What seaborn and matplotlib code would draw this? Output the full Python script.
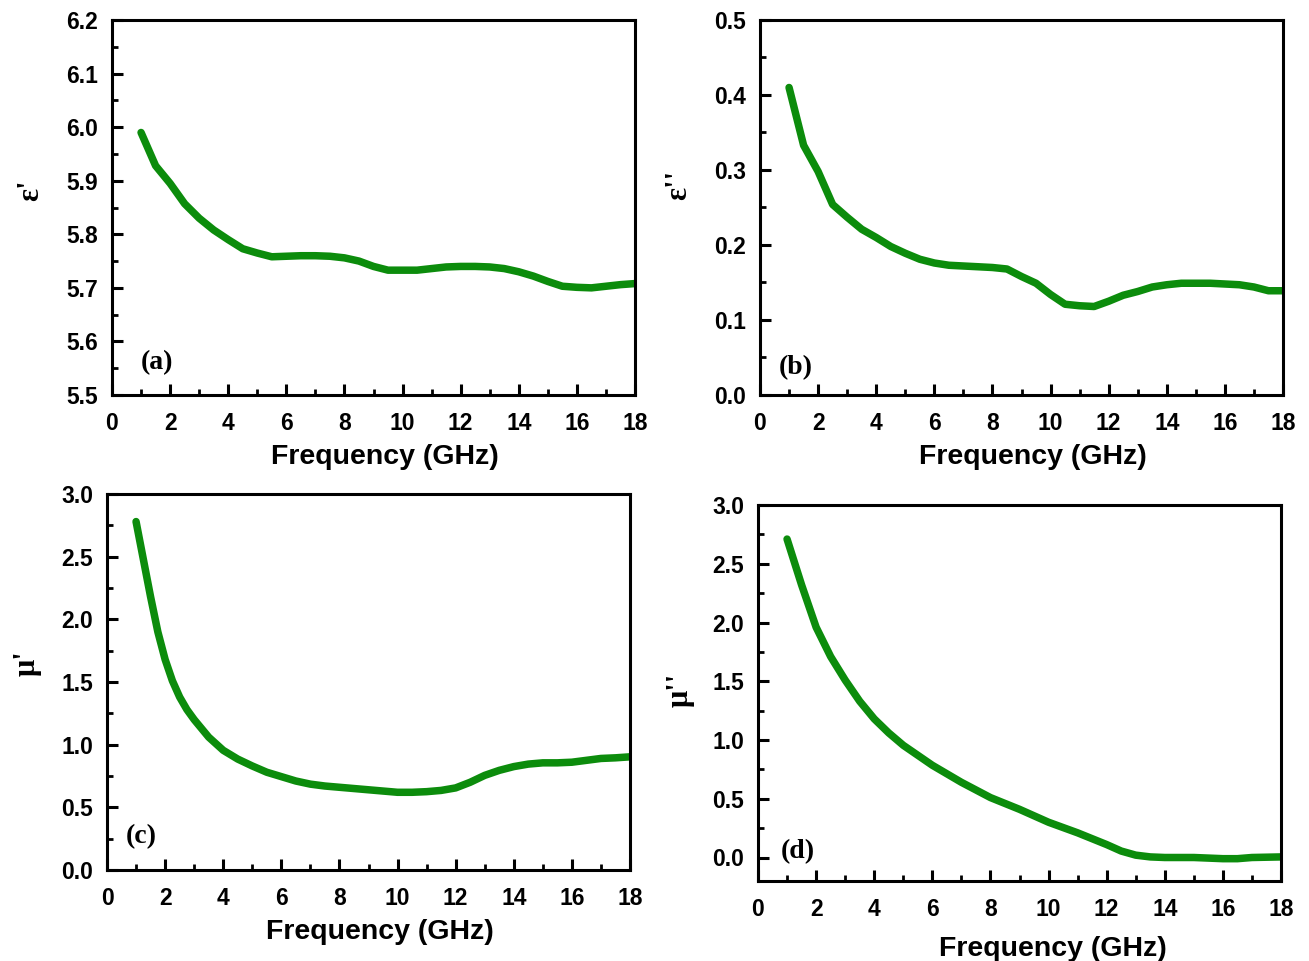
import numpy as np
import pandas as pd
import matplotlib
matplotlib.use("Agg")
import matplotlib.pyplot as plt
import seaborn as sns
from matplotlib.ticker import MultipleLocator

# ---------------- data ----------------
freq_a = [1, 1.5, 2, 2.5, 3, 3.5, 4, 4.5, 5, 5.5, 6, 6.5, 7, 7.5, 8, 8.5, 9, 9.5, 10,
          10.5, 11, 11.5, 12, 12.5, 13, 13.5, 14, 14.5, 15, 15.5, 16, 16.5, 17, 17.5, 18]
eps_real = [5.99, 5.928, 5.895, 5.857, 5.83, 5.808, 5.79, 5.773, 5.765, 5.758, 5.759, 5.76,
            5.76, 5.759, 5.756, 5.75, 5.74, 5.733, 5.733, 5.733, 5.736, 5.739, 5.74, 5.74,
            5.739, 5.736, 5.73, 5.722, 5.712, 5.703, 5.701, 5.7, 5.703, 5.706, 5.708]
eps_imag = [0.41, 0.333, 0.298, 0.254, 0.237, 0.221, 0.21, 0.198, 0.189, 0.181, 0.176, 0.173,
            0.172, 0.171, 0.17, 0.168, 0.158, 0.149, 0.134, 0.121, 0.119, 0.118, 0.125, 0.133,
            0.138, 0.144, 0.147, 0.149, 0.149, 0.149, 0.148, 0.147, 0.144, 0.139, 0.139]

freq_c = [1, 1.25, 1.5, 1.75, 2, 2.25, 2.5, 2.75, 3, 3.5, 4, 4.5, 5, 5.5, 6, 6.5, 7, 7.5, 8,
          8.5, 9, 9.5, 10, 10.5, 11, 11.5, 12, 12.5, 13, 13.5, 14, 14.5, 15, 15.5, 16, 16.5,
          17, 17.5, 18]
mu_real = [2.78, 2.48, 2.18, 1.9, 1.68, 1.51, 1.38, 1.28, 1.2, 1.06, 0.955, 0.885, 0.83, 0.78,
           0.745, 0.71, 0.685, 0.67, 0.66, 0.65, 0.64, 0.63, 0.62, 0.62, 0.625, 0.635, 0.655,
           0.70, 0.755, 0.795, 0.825, 0.845, 0.855, 0.855, 0.86, 0.875, 0.89, 0.895, 0.903]

freq_d = [1, 1.5, 2, 2.5, 3, 3.5, 4, 4.5, 5, 6, 7, 8, 9, 10, 11, 12, 12.5, 13, 13.5, 14,
          15, 16, 16.5, 17, 18]
mu_imag = [2.71, 2.32, 1.96, 1.71, 1.51, 1.33, 1.18, 1.06, 0.955, 0.785, 0.64, 0.51, 0.41,
           0.30, 0.21, 0.11, 0.055, 0.02, 0.005, 0.0, 0.0, -0.01, -0.01, 0.0, 0.005]

xticks = [0, 2, 4, 6, 8, 10, 12, 14, 16, 18]
xlabel = "Frequency (GHz)"
ylabels = ["ε'", "ε''", "μ'", "μ''"]
panel_tags = ["(a)", "(b)", "(c)", "(d)"]

# ---------------- style ----------------
sns.set_style("ticks")
plt.rcParams['font.family'] = ['Liberation Sans', 'DejaVu Sans']
plt.rcParams['font.weight'] = 'bold'
for key in ['text.color', 'axes.labelcolor', 'xtick.color', 'ytick.color', 'axes.edgecolor']:
    plt.rcParams[key] = 'black'
line_color = "#0c8c0c"

fig = plt.figure(figsize=(13.09, 9.61), dpi=100)

W = 523 / 1309
axes_specs = [
    [112 / 1309, 1 - 395 / 961, W, 375 / 961],
    [760 / 1309, 1 - 395 / 961, W, 375 / 961],
    [107 / 1309, 1 - 870 / 961, W, 376 / 961],
    [758 / 1309, 1 - 881 / 961, W, 376 / 961],
]

datasets = [
    (freq_a, eps_real, (5.5, 6.2), 0.1, 0.05),
    (freq_a, eps_imag, (0.0, 0.5), 0.1, 0.05),
    (freq_c, mu_real, (0.0, 3.0), 0.5, 0.25),
    (freq_d, mu_imag, (-0.2, 3.0), 0.5, 0.25),
]

ylabel_coords = [(-0.127, 0.547), (-0.127, 0.56), (-0.124, 0.55), (-0.122, 0.508)]
xlabel_coords = [(0.522, -0.13), (0.522, -0.13), (0.522, -0.13), (0.564, -0.145)]
tag_pos = [(1.0, 5.56), (0.65, 0.036), (0.65, 0.27), (0.8, 0.05)]

for i, spec in enumerate(axes_specs):
    ax = fig.add_axes(spec)
    fx, fy, ylim, major, minor = datasets[i]
    df = pd.DataFrame({"f": fx, "v": fy})
    sns.lineplot(data=df, x="f", y="v", ax=ax, color=line_color, linewidth=5.4,
                 solid_capstyle="round", solid_joinstyle="round")
    ax.set_xlim(0, 18)
    ax.set_ylim(*ylim)
    ax.set_xticks(xticks)
    ax.xaxis.set_minor_locator(MultipleLocator(1))
    yt = np.arange(max(ylim[0], 0.0), ylim[1] + 1e-9, major)
    ax.set_yticks(yt)
    ax.set_yticklabels(["{:.1f}".format(t) for t in yt])
    ax.yaxis.set_minor_locator(MultipleLocator(minor))
    ax.tick_params(axis='both', which='major', direction='in', length=8, width=2.2,
                   labelsize=16.5, top=False, right=False, colors='black')
    ax.tick_params(axis='y', which='major', pad=10)
    ax.tick_params(axis='x', which='major', pad=12)
    ax.tick_params(axis='both', which='minor', direction='in', length=4, width=2.0,
                   top=False, right=False, colors='black')
    for lab in ax.get_xticklabels() + ax.get_yticklabels():
        lab.set_fontweight('bold')
    for s in ax.spines.values():
        s.set_linewidth(2.2)
        s.set_color('black')
    ax.set_xlabel(xlabel, fontsize=20.5, fontweight='bold', color='black')
    ax.xaxis.set_label_coords(*xlabel_coords[i])
    ax.set_ylabel(ylabels[i], fontsize=22, fontweight='bold', color='black',
                  family=['Liberation Serif', 'DejaVu Serif'])
    ax.yaxis.set_label_coords(*ylabel_coords[i])
    ax.text(tag_pos[i][0], tag_pos[i][1], panel_tags[i], fontsize=20, fontweight='bold',
            color='black', family=['Liberation Serif', 'DejaVu Serif'],
            ha='left', va='center')

fig.savefig("out.png", dpi=100)
